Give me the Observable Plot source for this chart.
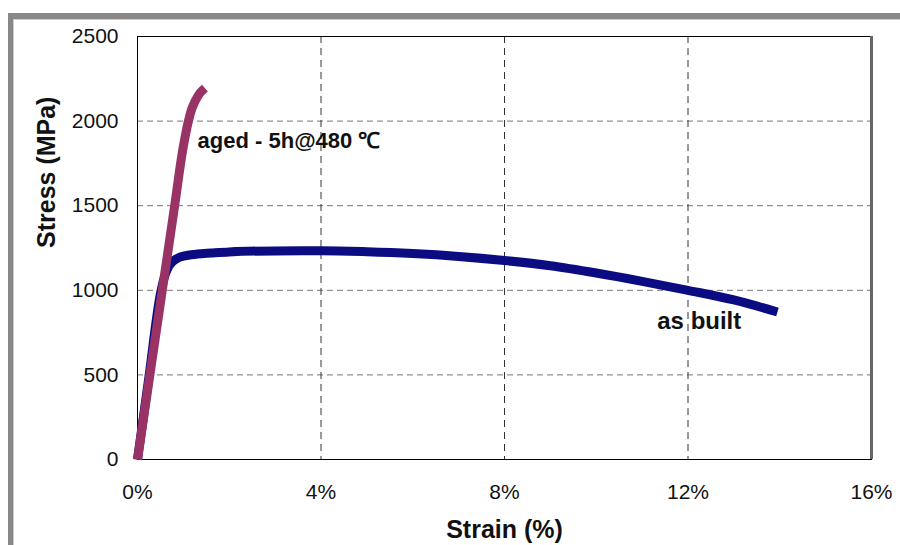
<!DOCTYPE html>
<html>
<head>
<meta charset="utf-8">
<script src="https://cdn.jsdelivr.net/npm/d3@7"></script>
<script src="https://cdn.jsdelivr.net/npm/@observablehq/plot@0.6"></script>
<style>
  html, body { margin: 0; padding: 0; background: #fff; }
  #wrap { position: relative; width: 900px; height: 545px; overflow: hidden; }
  #border {
    position: absolute; left: 8px; top: 13px; width: 960px; height: 600px;
    border-left: 5px solid #888; border-top: 6px solid #888;
    box-shadow: inset 1px 1px 0 #ccc;
  }
  #chart { position: absolute; left: 0; top: 0; }
</style>
</head>
<body>
<div id="wrap">
  <div id="border"></div>
  <div id="chart"></div>
</div>
<script>
// Tensile test curves: strain (%) vs engineering stress (MPa)
const asBuiltStrain = [0, 0.25, 0.5, 0.6, 0.68, 0.76, 0.85, 0.95, 1.1, 1.3, 1.6, 2, 3, 4, 5, 6, 7, 8, 9, 10, 11, 12, 13, 13.95];
const asBuiltStress = [0, 490, 980, 1090, 1140, 1168, 1186, 1198, 1207, 1214, 1220, 1227, 1233, 1234, 1228, 1217, 1200, 1176, 1145, 1102, 1053, 1000, 943, 872];

const agedStrain = [0, 0.27, 0.54, 0.81, 0.98, 1.05, 1.11, 1.18, 1.26, 1.36, 1.47];
const agedStress = [0, 500, 1000, 1500, 1820, 1925, 2000, 2070, 2120, 2165, 2195];

const xTicks = [0, 4, 8, 12, 16];
const yTicks = [0, 500, 1000, 1500, 2000, 2500];

const seriesLabels = [
  {text: "aged - 5h@480 \u2103", x: 1.31, y: 1885, size: 22},
  {text: "as built", x: 11.33, y: 815, size: 24}
];

const asBuilt = asBuiltStrain.map((s, i) => ({strain: s, stress: asBuiltStress[i]}));
const aged = agedStrain.map((s, i) => ({strain: s, stress: agedStress[i]}));

const chart = Plot.plot({
  width: 900,
  height: 545,
  marginLeft: 137,
  marginRight: 29,
  marginTop: 36,
  marginBottom: 86,
  style: {fontFamily: "'Liberation Sans', Arial, sans-serif", fontSize: "21px", color: "#111", background: "transparent"},
  x: {domain: [0, 16], label: null},
  y: {domain: [0, 2500], label: null},
  marks: [
    Plot.gridY([500, 1000, 1500, 2000], {stroke: "#777", strokeOpacity: 1, strokeDasharray: "6,4"}),
    Plot.gridX([4, 8, 12], {stroke: "#333", strokeOpacity: 1, strokeDasharray: "7,5"}),
    Plot.frame({stroke: "#000", strokeWidth: 1}),
    Plot.ruleX([16], {stroke: "#666", strokeWidth: 3}),
    Plot.line(asBuilt, {x: "strain", y: "stress", stroke: "#0c0c82", strokeWidth: 9, curve: "monotone-x", strokeLinecap: "butt"}),
    Plot.line(aged, {x: "strain", y: "stress", stroke: "#993366", strokeWidth: 9, curve: "monotone-x", strokeLinecap: "butt"}),
    Plot.text(seriesLabels, {x: "x", y: "y", text: "text", textAnchor: "start", fontWeight: "bold", fontSize: d => d.size, fill: "#111"}),
    Plot.text(["Strain (%)"], {frameAnchor: "bottom", dy: 78, fontWeight: "bold", fontSize: 25, fill: "#111"}),
    Plot.text(["Stress (MPa)"], {frameAnchor: "left", dx: -91, rotate: -90, fontWeight: "bold", fontSize: 25, fill: "#111"}),
    Plot.axisX({ticks: xTicks, tickFormat: d => d + "%", tickSize: 0, tickPadding: 25, label: null, fontSize: 21}),
    Plot.axisY({ticks: yTicks, tickFormat: d3.format("d"), tickSize: 0, tickPadding: 19, label: null, fontSize: 21})
  ]
});
document.getElementById("chart").appendChild(chart);
</script>
</body>
</html>
